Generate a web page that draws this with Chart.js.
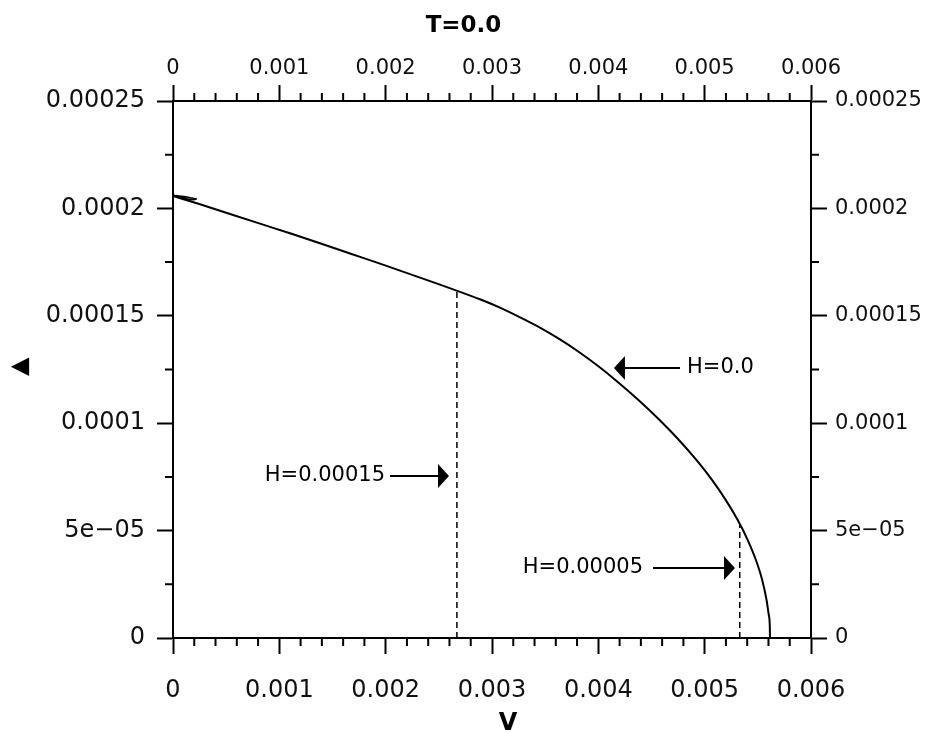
<!DOCTYPE html>
<html>
<head>
<meta charset="utf-8">
<script src="https://cdn.jsdelivr.net/npm/chart.js@4/dist/chart.umd.min.js"></script>
<style>
  html, body { margin: 0; padding: 0; background: #fff; }
  #wrap { width: 927px; height: 733px; }
</style>
</head>
<body>
<div id="wrap"><canvas id="c" width="927" height="733"></canvas></div>
<script>
// curve H=0.0 : gap Delta against V
var curveV = [0, 0.000254, 0.000536, 0.000818, 0.0011, 0.001382, 0.001665, 0.001947, 0.002229, 0.002511,
  0.00268, 0.002887, 0.003075, 0.003263, 0.003451, 0.003639, 0.003828, 0.004016, 0.00416, 0.004377,
  0.004576, 0.004758, 0.004922, 0.005069, 0.005199, 0.005311, 0.005405, 0.005482, 0.005541, 0.005582,
  0.005603, 0.005613, 0.005614];
var curveDelta = [0.0002058, 0.0002019, 0.0001974, 0.0001929, 0.0001884, 0.0001838, 0.000179, 0.0001743, 0.0001694, 0.0001645,
  0.0001615, 0.0001577, 0.0001538, 0.0001493, 0.0001445, 0.000139, 0.0001328, 0.0001259, 0.0001201, 0.0001108,
  0.0001015, 0.0000922, 0.0000829, 0.0000736, 0.0000642, 0.0000549, 0.0000456, 0.0000363, 0.000027, 0.0000177,
  0.0000107, 0.0000047, 0];

// little loop near V=0
var loopV     = [0, 0.00008, 0.00016, 0.00022, 0.00018, 0.0001, 0.00003];
var loopDelta = [0.0002062, 0.0002052, 0.0002041, 0.0002044, 0.0002048, 0.0002055, 0.000206];

// dashed transition lines
var dashV     = [0.00267, 0.00533];
var dashDelta = [0.0001617, 0.000053];

// arrows: label, tip V, tail V, Delta
var arrowText  = ['H=0.0', 'H=0.00015', 'H=0.00005'];
var arrowTipV  = [0.004147, 0.0025956, 0.005285];
var arrowTailV = [0.004768, 0.002041, 0.004514];
var arrowDelta = [0.0001257, 0.0000754, 0.0000326];

// ticks
var xTickValues = [0, 0.001, 0.002, 0.003, 0.004, 0.005, 0.006];
var xTickLabels = ['0', '0.001', '0.002', '0.003', '0.004', '0.005', '0.006'];
var yTickValues = [0, 0.00005, 0.0001, 0.00015, 0.0002, 0.00025];
var yTickLabels = ['0', '5e\u221205', '0.0001', '0.00015', '0.0002', '0.00025'];
var xMinorStep = 0.0002;
var yMinorStep = 0.000025;

var FONT = 'DejaVu Sans';

function pts(xs, ys) {
  return xs.map(function (v, i) { return { x: v, y: ys[i] }; });
}

var datasets = [
  { data: pts(curveV, curveDelta), borderColor: '#000', borderWidth: 2, cubicInterpolationMode: 'monotone' },
  { data: pts(loopV, loopDelta), borderColor: '#000', borderWidth: 1.5, tension: 0.4 }
];
dashV.forEach(function (v, i) {
  datasets.push({
    data: [{ x: v, y: 0 }, { x: v, y: dashDelta[i] }],
    borderColor: '#000', borderWidth: 1.5, borderDash: [6, 4]
  });
});
datasets.forEach(function (d) {
  d.showLine = true; d.pointRadius = 0; d.fill = false;
  d.xAxisID = 'x'; d.yAxisID = 'y';
});

function axis(pos, vals, labels, size, pad, fontSize) {
  var horiz = (pos === 'top' || pos === 'bottom');
  return {
    type: 'linear',
    position: pos,
    min: 0,
    max: horiz ? 0.006 : 0.00025,
    afterBuildTicks: function (s) { s.ticks = vals.map(function (v) { return { value: v }; }); },
    afterFit: function (s) { if (horiz) s.height = size; else s.width = size; },
    grid: { drawOnChartArea: false, drawTicks: true, tickLength: 16, tickWidth: 2, tickColor: '#000' },
    border: { display: true, color: '#000', width: 2 },
    ticks: {
      autoSkip: false, maxRotation: 0, padding: pad, color: '#111',
      font: { family: FONT, size: fontSize },
      callback: function (v, i) { return labels[i]; }
    }
  };
}

// minor ticks, arrows and free labels
var extras = {
  id: 'extras',
  afterDraw: function (chart) {
    var ctx = chart.ctx, a = chart.chartArea;
    var sx = chart.scales.x, sy = chart.scales.y;
    ctx.save();
    ctx.strokeStyle = '#000';
    ctx.lineWidth = 2;
    ctx.beginPath();
    for (var v = xMinorStep; v < 0.006; v += xMinorStep) {
      if (Math.abs(v / 0.001 - Math.round(v / 0.001)) < 1e-6) continue;
      var px = sx.getPixelForValue(v);
      ctx.moveTo(px, a.bottom); ctx.lineTo(px, a.bottom + 8);
      ctx.moveTo(px, a.top); ctx.lineTo(px, a.top - 8);
    }
    for (var w = yMinorStep; w < 0.00025; w += 2 * yMinorStep) {
      var py = sy.getPixelForValue(w);
      ctx.moveTo(a.left, py); ctx.lineTo(a.left - 8, py);
      ctx.moveTo(a.right, py); ctx.lineTo(a.right + 8, py);
    }
    ctx.stroke();

    // arrows
    ctx.fillStyle = '#000';
    ctx.font = '21px "' + FONT + '"';
    ctx.textBaseline = 'middle';
    arrowText.forEach(function (t, i) {
      var tip = sx.getPixelForValue(arrowTipV[i]);
      var tail = sx.getPixelForValue(arrowTailV[i]);
      var y = sy.getPixelForValue(arrowDelta[i]);
      var dir = tail > tip ? 1 : -1;
      var base = tip + dir * 11;
      ctx.beginPath();
      ctx.moveTo(base, y); ctx.lineTo(tail, y);
      ctx.stroke();
      ctx.beginPath();
      ctx.moveTo(tip, y); ctx.lineTo(base, y - 12); ctx.lineTo(base, y + 12);
      ctx.closePath();
      ctx.fill();
      if (dir > 0) { ctx.textAlign = 'left'; ctx.fillText(t, tail + 7, y); }
      else { ctx.textAlign = 'right'; ctx.fillText(t, tail - (i === 1 ? 5 : 10), y); }
    });

    // axis titles
    ctx.font = 'bold 24px "' + FONT + '"';
    ctx.textAlign = 'center';
    ctx.fillText('V', 508, 724);
    ctx.fillText('\u25C0', 20, 367);
    ctx.restore();
  }
};

new Chart(document.getElementById('c'), {
  type: 'scatter',
  data: { datasets: datasets },
  options: {
    responsive: false,
    animation: false,
    layout: { padding: 0 },
    plugins: {
      legend: { display: false },
      tooltip: { enabled: false },
      title: {
        display: true, text: 'T=0.0', color: '#000',
        font: { family: FONT, size: 23, weight: 'bold' },
        padding: { top: 12, bottom: 0 }
      }
    },
    scales: {
      x:  axis('bottom', xTickValues, xTickLabels, 95, 22, 24),
      x2: axis('top', xTickValues, xTickLabels, 101 - 39.6, 4, 21),
      y:  axis('left', yTickValues, yTickLabels, 173, 12, 24),
      y2: axis('right', yTickValues, yTickLabels, 116, 8, 21)
    }
  },
  plugins: [extras]
});
</script>
</body>
</html>
